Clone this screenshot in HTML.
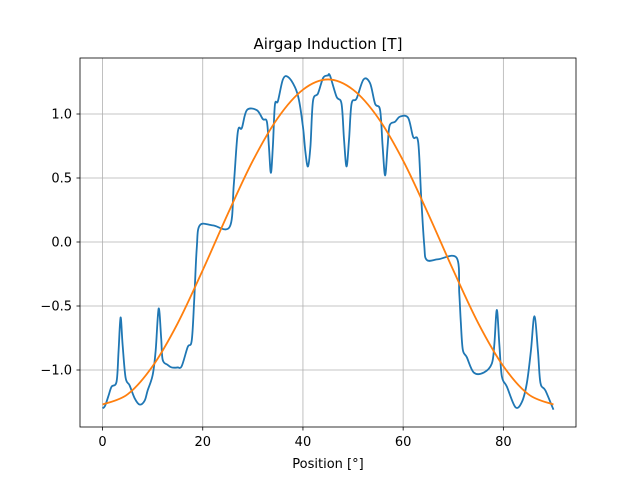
<!DOCTYPE html>
<html><head><meta charset="utf-8"><style>
body{margin:0;background:#fff;}
svg{display:block;font-family:"DejaVu Sans","Liberation Sans",sans-serif;}
</style></head><body>
<svg id="chart" width="640" height="480"></svg>
<script>
const xTicks=[0,20,40,60,80];
const yTicks=[-1.0,-0.5,0.0,0.5,1.0];
const yTickLabels=["\u22121.0","\u22120.5","0.0","0.5","1.0"];
const bluePos=[0,0.5,1.2,1.8,2.8,3.2,3.6,4.0,4.6,5.4,6.4,7.4,8.4,9,10,10.6,11.2,11.7,12,13,13.8,15,15.8,17,17.8,18.3,18.8,19.4,22,25.4,26.2,27,27.8,28.8,30.8,32,32.8,33.2,33.6,34,34.4,35,36,37,38.4,39.2,40,40.5,41,41.5,42,43,44,44.8,45,
45.4,46.7,47.7,48.2,48.7,49.2,49.7,50.7,52.1,53.4,54.4,55.4,55.9,56.4,56.9,57.3,58.4,59.4,61,62,63,63.6,64.2,64.7,67,70.7,71.2,71.5,71.9,72.7,74.1,76.1,77.7,78.2,78.7,79.2,79.7,80.7,82.4,83.7,84.7,85.5,86.2,86.9,87.4,88.4,90];
const blueVal=[-1.30,-1.28,-1.20,-1.13,-1.09,-0.85,-0.59,-0.80,-1.06,-1.12,-1.22,-1.27,-1.24,-1.16,-1.04,-0.85,-0.52,-0.75,-0.92,-0.96,-0.98,-0.98,-0.97,-0.82,-0.77,-0.45,-0.05,0.13,0.13,0.12,0.45,0.86,0.89,1.03,1.03,0.96,0.94,0.75,0.54,0.75,1.07,1.10,1.27,1.29,1.21,1.11,0.9,0.7,0.59,0.75,1.10,1.16,1.28,1.30,1.30,
1.30,1.135,1.08,0.8,0.59,0.8,1.08,1.12,1.27,1.24,1.08,1.03,0.75,0.52,0.75,0.91,0.94,0.98,0.97,0.82,0.78,0.35,-0.02,-0.14,-0.135,-0.125,-0.4,-0.62,-0.84,-0.90,-1.02,-1.02,-0.95,-0.80,-0.53,-0.80,-1.05,-1.13,-1.29,-1.25,-1.10,-0.85,-0.58,-0.85,-1.10,-1.16,-1.31];
const orangePos=[0,5,10,15,20,25,30,35,40,45,50,55,60,65,70,75,80,85,90];
const orangeVal=[-1.27,-1.19,-0.97,-0.635,-0.22,0.22,0.635,0.97,1.19,1.27,1.19,0.97,0.635,0.22,-0.22,-0.635,-0.97,-1.19,-1.27];

const svg=document.getElementById('chart');
const NS='http://www.w3.org/2000/svg';
const L=80,R=576,T=58,B=427;
const X=v=>L+(v+4.5)/99*(R-L);
const Y=v=>242-v*128;
function mk(tag,attrs,parent){const e=document.createElementNS(NS,tag);for(const k in attrs)e.setAttribute(k,attrs[k]);(parent||svg).appendChild(e);return e;}
const grid=mk('g',{});


xTicks.forEach(t=>{const l=mk('line',{x1:X(t),x2:X(t),y1:T,y2:B,stroke:'#b0b0b0','stroke-width':0.8},grid);


const tk=mk('line',{x1:X(t),x2:X(t),y1:B,y2:B+3.5,stroke:'#000','stroke-width':0.8});


const tx=mk('text',{x:X(t),y:B+19,'font-size':13,'text-anchor':'middle'});tx.textContent=t;

});
yTicks.forEach((t,i)=>{const l=mk('line',{x1:L,x2:R,y1:Y(t),y2:Y(t),stroke:'#b0b0b0','stroke-width':0.8},grid);


const tk=mk('line',{x1:L-3.5,x2:L,y1:Y(t),y2:Y(t),stroke:'#000','stroke-width':0.8});


const tx=mk('text',{x:L-8,y:Y(t)+4.5,'font-size':13,'text-anchor':'end'});tx.textContent=yTickLabels[i];

});
function smooth(xs,ys){const p=xs.map((x,i)=>[X(x),Y(ys[i])]);let d='M'+p[0][0]+','+p[0][1];
for(let i=0;i<p.length-1;i++){const p0=p[i-1]||p[i],p1=p[i],p2=p[i+1],p3=p[i+2]||p2;
const c1=[p1[0]+(p2[0]-p0[0])/6,p1[1]+(p2[1]-p0[1])/6],c2=[p2[0]-(p3[0]-p1[0])/6,p2[1]-(p3[1]-p1[1])/6];
d+=`C${c1[0]},${c1[1]} ${c2[0]},${c2[1]} ${p2[0]},${p2[1]}`;}return d;}
const bl=mk('path',{d:smooth(bluePos,blueVal),fill:'none',stroke:'#1f77b4','stroke-width':1.8,'stroke-linejoin':'round'});


const ol=mk('path',{d:smooth(orangePos,orangeVal),fill:'none',stroke:'#ff7f0e','stroke-width':1.8});


const fr=mk('rect',{x:L,y:T,width:R-L,height:B-T,fill:'none',stroke:'#000','stroke-width':0.8});


const ti=mk('text',{x:(L+R)/2,y:T-9,'font-size':15,'text-anchor':'middle'});ti.textContent='Airgap Induction [T]';


const xl=mk('text',{x:(L+R)/2,y:B+41,'font-size':13,'text-anchor':'middle'});xl.textContent='Position [°]';


</script>
</body></html>
